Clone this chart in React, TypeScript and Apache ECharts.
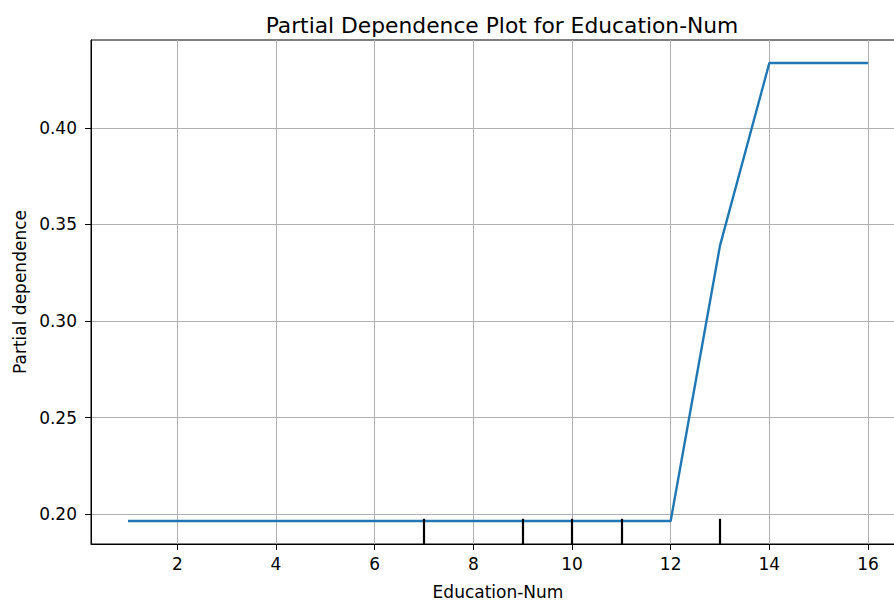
import React, { useEffect, useRef } from "react";
import * as echarts from "echarts";

const xValues = [1, 2, 3, 4, 5, 6, 7, 8, 9, 10, 11, 12, 13, 14, 15, 16];
const pdValues = [
  0.1964, 0.1964, 0.1964, 0.1964, 0.1964, 0.1964, 0.1964, 0.1964,
  0.1964, 0.1964, 0.1964, 0.1964, 0.339, 0.4336, 0.4336, 0.4336,
];
const deciles = [7, 9, 10, 11, 13];
const xTicks = [2, 4, 6, 8, 10, 12, 14, 16];
const yTicks = [0.2, 0.25, 0.3, 0.35, 0.4];

const X_MIN = 0.25;
const X_MAX = 16.75;
const Y_MIN = 0.1845;
const Y_MAX = 0.4455;

export default function App() {
  const ref = useRef<HTMLDivElement>(null);
  useEffect(() => {
    document.body.style.margin = "0";
    const chart = echarts.init(ref.current!, null, { renderer: "svg" });
    const font = "'DejaVu Sans', sans-serif";
    const rugTop = Y_MIN + 0.05 * (Y_MAX - Y_MIN);
    chart.setOption({
      animation: false,
      backgroundColor: "#ffffff",
      title: {
        text: "Partial Dependence Plot for Education-Num",
        left: 497,
        top: 9,
        textAlign: "center",
        textStyle: {
          fontFamily: font,
          fontSize: 21.8,
          fontWeight: "normal",
          color: "#000",
        },
      },
      grid: {
        left: 91,
        width: 814,
        top: 40,
        height: 504,
        outerBoundsMode: "none",
        containLabel: false,
        show: true,
        borderColor: "#000",
        borderWidth: 1,
        backgroundColor: "transparent",
      },
      xAxis: {
        type: "value",
        min: X_MIN,
        max: X_MAX,
        name: "Education-Num",
        nameLocation: "middle",
        nameGap: 39,
        nameTextStyle: { fontFamily: font, fontSize: 17, color: "#000" },
        axisLine: { show: true, lineStyle: { color: "#000", width: 1 } },
        axisTick: {
          show: true,
          length: 6,
          customValues: xTicks,
          lineStyle: { color: "#000" },
        },
        axisLabel: {
          customValues: xTicks,
          margin: 11,
          fontFamily: font,
          fontSize: 17,
          color: "#000",
        },
        splitLine: { show: true, lineStyle: { color: "#b0b0b0", width: 1 } },
      },
      yAxis: {
        type: "value",
        min: Y_MIN,
        max: Y_MAX,
        name: "Partial dependence",
        nameLocation: "middle",
        nameGap: 62,
        nameTextStyle: { fontFamily: font, fontSize: 17, color: "#000" },
        axisLine: { show: true, lineStyle: { color: "#000", width: 1 } },
        axisTick: {
          show: true,
          length: 6,
          customValues: yTicks,
          lineStyle: { color: "#000" },
        },
        axisLabel: {
          customValues: yTicks,
          margin: 14,
          fontFamily: font,
          fontSize: 17,
          color: "#000",
          formatter: (v: number) => v.toFixed(2),
        },
        splitLine: { show: true, lineStyle: { color: "#b0b0b0", width: 1 } },
      },
      series: [
        {
          type: "line",
          data: xValues.map((x, i) => [x, pdValues[i]]),
          showSymbol: false,
          symbol: "none",
          lineStyle: { color: "#1f77b4", width: 2.4 },
          z: 3,
          markLine: {
            silent: true,
            symbol: ["none", "none"],
            label: { show: false },
            lineStyle: { color: "#000", width: 2.2, type: "solid" },
            data: deciles.map((d) => [
              { coord: [d, Y_MIN] },
              { coord: [d, rugTop] },
            ]),
          },
        },
      ],
    });
    return () => chart.dispose();
  }, []);
  return <div ref={ref} style={{ width: 894, height: 601 }} />;
}
